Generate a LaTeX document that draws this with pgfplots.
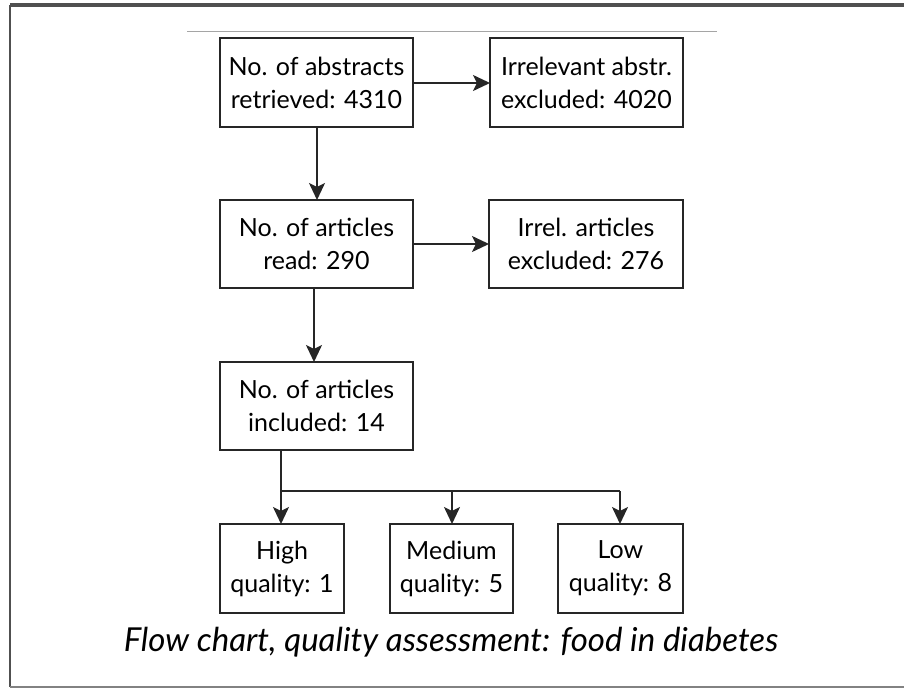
\documentclass[border=0pt]{standalone}
\usepackage{pgfplots}
\pgfplotsset{compat=1.18}
\usepackage{fontspec}
\setmainfont{Lato}
\usetikzlibrary{arrows.meta}
\definecolor{frameDark}{RGB}{80,80,80}
\definecolor{frameGray}{RGB}{130,130,130}
\definecolor{ruleGray}{RGB}{165,165,165}
\newcommand{\flowbox}[4]{\addplot[draw=black!85, line width=1pt, line cap=rect, line join=miter] coordinates {(#1,#2) (#3,#2) (#3,#4) (#1,#4) (#1,#2)};}
\newcommand{\flowarrow}[4]{\addplot[draw=black!85, line width=1pt, -{Stealth[length=8.5pt,width=8pt,inset=2pt]}] coordinates {(#1,#2) (#3,#4)};}
\begin{document}
\begin{tikzpicture}
\begin{axis}[
  width=452pt, height=345pt, scale only axis,
  xmin=0, xmax=904, ymin=0, ymax=690, y dir=reverse,
  hide axis, clip=false,
]
% outer frame (top, left, bottom)
\addplot[draw=frameDark, line width=1.6pt] coordinates {(10,5) (904,5)};
\addplot[draw=frameDark, line width=0.8pt] coordinates {(10,5) (10,687)};
\addplot[draw=frameGray, line width=0.6pt] coordinates {(10,687) (904,687)};
% gray rule
\addplot[draw=ruleGray, line width=0.5pt] coordinates {(187,32) (717,32)};
% boxes
\flowbox{220}{38}{413}{127}
\flowbox{490}{38}{683}{127}
\flowbox{220}{200}{413}{288}
\flowbox{489}{200}{683}{288}
\flowbox{220}{362}{413}{450}
\flowbox{220}{524}{344}{613}
\flowbox{390}{524}{513}{613}
\flowbox{558}{524}{683}{613}
% connectors
\flowarrow{413}{83}{490}{83}
\flowarrow{317}{127}{317}{200}
\flowarrow{413}{244}{489}{244}
\flowarrow{314}{288}{314}{362}
\addplot[draw=black!85, line width=1pt] coordinates {(281,450) (281,491) (620,491)};
\flowarrow{281}{491}{281}{524}
\flowarrow{452}{491}{452}{524}
\flowarrow{620}{491}{620}{524}
% texts
\tikzset{bt/.style={align=center, font=\fontsize{12.5}{16.5}\selectfont, inner sep=0pt}}
\node[bt] at (axis cs:316.5,82.5) {No. of abstracts\\retrieved: 4310};
\node[bt] at (axis cs:586.5,82.5) {Irrelevant abstr.\\excluded: 4020};
\node[bt] at (axis cs:316.5,244) {No. of articles\\read: 290};
\node[bt] at (axis cs:586,244) {Irrel. articles\\excluded: 276};
\node[bt] at (axis cs:316.5,406) {No. of articles\\included: 14};
\node[bt] at (axis cs:282,568.5) {High\\quality: 1};
\node[bt] at (axis cs:451.5,568.5) {Medium\\quality: 5};
\node[bt] at (axis cs:620.5,568.5) {Low\\quality: 8};
\node[font=\fontsize{16.5}{19}\selectfont\itshape, inner sep=0pt] at (axis cs:451,642) {Flow chart, quality assessment: food in diabetes};
\end{axis}
\pgfresetboundingbox
\path (current axis.south west) rectangle (current axis.north east);
\end{tikzpicture}
\end{document}
